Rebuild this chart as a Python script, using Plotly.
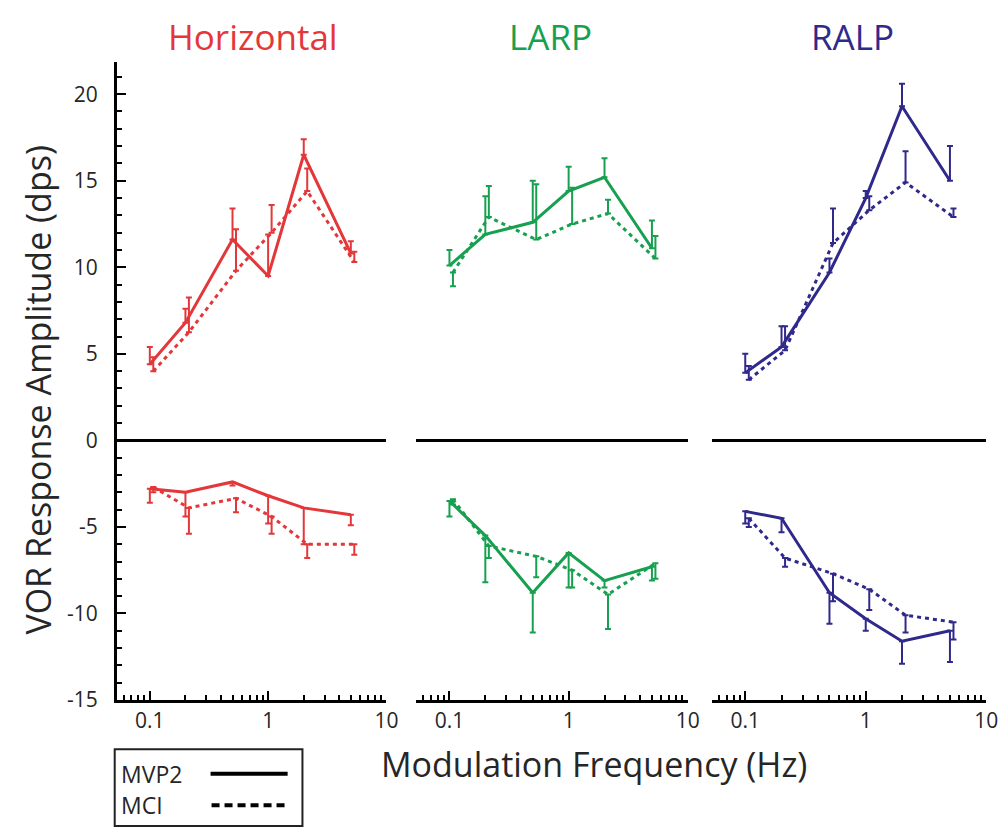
import plotly.graph_objects as go

# Figure size in px (matches the browser window)
W, H = 1008, 834

# Modulation frequencies (Hz); MCI points are drawn slightly to the right
freq = [0.1, 0.2, 0.5, 1, 2, 5]
freq_mci = [0.107, 0.214, 0.535, 1.07, 2.14, 5.35]

# Horizontal canal - positive (upper) half
horiz_mvp2_up = [4.4, 6.8, 11.6, 9.5, 16.5, 10.8]
horiz_mvp2_up_err = [1.0, 0.8, 1.8, 2.4, 0.9, 0.7]
horiz_mci_up = [4.0, 6.25, 9.8, 12.0, 14.4, 10.3]
horiz_mci_up_err = [0.8, 2.0, 2.4, 1.6, 1.3, 0.6]
# Horizontal canal - negative (lower) half
horiz_mvp2_dn = [-2.8, -3.0, -2.4, -3.2, -3.9, -4.3]
horiz_mvp2_dn_err = [0.8, 1.4, 0.2, 1.6, 2.1, 0.6]
horiz_mci_dn = [-2.7, -3.9, -3.35, -4.4, -6.0, -6.0]
horiz_mci_dn_err = [0.3, 1.5, 0.8, 1.0, 0.8, 0.6]

# LARP canal
larp_mvp2_up = [10.1, 11.9, 12.6, 14.4, 15.2, 11.1]
larp_mvp2_up_err = [0.9, 2.2, 2.4, 1.4, 1.1, 1.6]
larp_mci_up = [9.7, 12.9, 11.6, 12.5, 13.1, 10.5]
larp_mci_up_err = [-0.8, 1.8, 3.2, 2.1, 0.8, 1.3]
larp_mvp2_dn = [-3.5, -5.5, -8.8, -6.5, -8.1, -7.3]
larp_mvp2_dn_err = [0.9, 2.7, 2.3, 2.0, 0.4, 0.8]
larp_mci_dn = [-3.4, -6.1, -6.7, -7.5, -8.9, -7.1]
larp_mci_dn_err = [0.3, 0.7, 1.2, 1.0, 2.0, 0.9]

# RALP canal
ralp_mvp2_up = [3.9, 5.4, 9.7, 14.0, 19.3, 15.0]
ralp_mvp2_up_err = [1.1, 1.2, 0.8, 0.4, 1.3, 2.0]
ralp_mci_up = [3.5, 5.2, 11.4, 13.3, 14.9, 12.9]
ralp_mci_up_err = [0.8, 1.4, 2.0, 0.8, 1.8, 0.5]
ralp_mvp2_dn = [-4.1, -4.5, -8.8, -10.3, -11.6, -11.0]
ralp_mvp2_dn_err = [0.7, 0.8, 1.8, 0.7, 1.3, 1.8]
ralp_mci_dn = [-4.5, -6.8, -7.7, -8.6, -10.1, -10.5]
ralp_mci_dn_err = [0.5, 0.5, 1.6, 1.2, 1.0, 1.0]

panel_titles = ["Horizontal", "LARP", "RALP"]
panel_colors = ["#e4373a", "#17a04f", "#30298c"]

x_ticks = [0.1, 1, 10]
x_ticktext = ["0.1", "1", "10"]
x_minor = [0.06, 0.07, 0.08, 0.09,
           0.2, 0.3, 0.4, 0.5, 0.6, 0.7, 0.8, 0.9,
           2, 3, 4, 5, 6, 7, 8, 9]
y_ticks = [-15, -10, -5, 0, 5, 10, 15, 20]
y_ticktext = ["-15", "-10", "-5", "0", "5", "10", "15", "20"]

panels = [
    (horiz_mvp2_up, horiz_mvp2_up_err, horiz_mci_up, horiz_mci_up_err,
     horiz_mvp2_dn, horiz_mvp2_dn_err, horiz_mci_dn, horiz_mci_dn_err),
    (larp_mvp2_up, larp_mvp2_up_err, larp_mci_up, larp_mci_up_err,
     larp_mvp2_dn, larp_mvp2_dn_err, larp_mci_dn, larp_mci_dn_err),
    (ralp_mvp2_up, ralp_mvp2_up_err, ralp_mci_up, ralp_mci_up_err,
     ralp_mvp2_dn, ralp_mvp2_dn_err, ralp_mci_dn, ralp_mci_dn_err),
]

FONT = "Open Sans"
TXT = "#262626"
DOT = "4px,4px"

# pixel layout helpers
def px_x(p):
    return p / W

def px_y(p):
    return 1 - p / H

panel_px = [(110, 383), (413, 688), (712, 990)]
plot_top, plot_bottom = 55, 703


def err_bar(vals, color):
    # one-sided error bars pointing away from zero (negative = towards zero)
    plus = [e if e > 0 else 0 for e in vals]
    minus = [-e if e < 0 else 0 for e in vals]
    return dict(type="data", symmetric=False, array=plus, arrayminus=minus,
                color=color, thickness=2, width=3)


def err_bar_down(vals, color):
    return dict(type="data", symmetric=False, array=[0] * len(vals), arrayminus=vals,
                color=color, thickness=2, width=3)


fig = go.Figure()

for i, (data, color) in enumerate(zip(panels, panel_colors)):
    mvp_up, mvp_up_e, mci_up, mci_up_e, mvp_dn, mvp_dn_e, mci_dn, mci_dn_e = data
    xa = "x" if i == 0 else f"x{i + 1}"
    ya = "y" if i == 0 else f"y{i + 1}"

    # MCI first so MVP2 sits on top
    fig.add_trace(go.Scatter(x=freq_mci, y=mci_up, mode="lines", xaxis=xa, yaxis=ya,
                             line=dict(color=color, width=3, dash=DOT),
                             error_y=err_bar(mci_up_e, color), showlegend=False))
    fig.add_trace(go.Scatter(x=freq_mci, y=mci_dn, mode="lines", xaxis=xa, yaxis=ya,
                             line=dict(color=color, width=3, dash=DOT),
                             error_y=err_bar_down(mci_dn_e, color), showlegend=False))
    fig.add_trace(go.Scatter(x=freq, y=mvp_up, mode="lines", xaxis=xa, yaxis=ya,
                             line=dict(color=color, width=3),
                             error_y=err_bar(mvp_up_e, color), showlegend=False))
    fig.add_trace(go.Scatter(x=freq, y=mvp_dn, mode="lines", xaxis=xa, yaxis=ya,
                             line=dict(color=color, width=3),
                             error_y=err_bar_down(mvp_dn_e, color), showlegend=False))

layout = dict(
    width=W, height=H,
    margin=dict(l=0, r=0, t=0, b=0),
    paper_bgcolor="white",
    plot_bgcolor="white",
    font=dict(family=FONT, color=TXT),
)

for i, (x0, x1) in enumerate(panel_px):
    sfx = "" if i == 0 else str(i + 1)
    layout["xaxis" + sfx] = dict(
        type="log", range=[-1.28, 1.0],
        domain=[px_x(x0), px_x(x1)],
        anchor="y" + sfx,
        showline=True, linecolor="black", linewidth=2.5,
        showgrid=False, zeroline=False,
        tickmode="array", tickvals=x_ticks, ticktext=x_ticktext,
        ticks="inside", ticklen=9, tickwidth=2, tickcolor="black",
        tickfont=dict(size=21, color=TXT, family=FONT),
        minor=dict(tickmode="array", tickvals=x_minor, ticks="inside",
                   ticklen=5, tickwidth=1.5, tickcolor="black", showgrid=False),
    )
    layout["yaxis" + sfx] = dict(
        range=[-15, 21.85],
        domain=[px_y(plot_bottom), px_y(plot_top)],
        anchor="x" + sfx,
        showgrid=False,
        zeroline=True, zerolinecolor="black", zerolinewidth=3,
        showline=(i == 0), linecolor="black", linewidth=2.5,
        showticklabels=(i == 0),
        tickmode="array", tickvals=y_ticks, ticktext=y_ticktext,
        ticks="inside" if i == 0 else "", ticklen=10, tickwidth=2, tickcolor="black",
        tickfont=dict(size=21, color=TXT, family=FONT),
        ticklabelstandoff=12,
        minor=dict(dtick=1, tick0=0, ticks="inside" if i == 0 else "",
                   ticklen=6, tickwidth=1.5, tickcolor="black", showgrid=False),
    )

fig.update_layout(**layout)

# panel titles
title_x = [248, 549, 855]
for name, color, cx in zip(panel_titles, panel_colors, title_x):
    fig.add_annotation(text=name, x=px_x(cx), y=px_y(29), xref="paper", yref="paper",
                       showarrow=False, xanchor="center", yanchor="middle",
                       font=dict(size=35, color=color, family=FONT))

# axis titles
fig.add_annotation(text="Modulation Frequency (Hz)", x=px_x(593), y=px_y(768),
                   xref="paper", yref="paper", showarrow=False,
                   xanchor="center", yanchor="middle",
                   font=dict(size=34, color=TXT, family=FONT))
fig.add_annotation(text="VOR Response Amplitude (dps)", x=px_x(30), y=px_y(388),
                   xref="paper", yref="paper", showarrow=False, textangle=-90,
                   xanchor="center", yanchor="middle",
                   font=dict(size=34, color=TXT, family=FONT))

# legend key box (drawn by hand: label on the left, line sample on the right)
fig.add_shape(type="rect", xref="paper", yref="paper",
              x0=px_x(108), x1=px_x(298), y0=px_y(831), y1=px_y(753),
              line=dict(color="#222222", width=2), fillcolor="white")
fig.add_shape(type="line", xref="paper", yref="paper",
              x0=px_x(205), x1=px_x(283), y0=px_y(778), y1=px_y(778),
              line=dict(color="black", width=4))
fig.add_shape(type="line", xref="paper", yref="paper",
              x0=px_x(206), x1=px_x(282), y0=px_y(810), y1=px_y(810),
              line=dict(color="black", width=4, dash="8px,5px"))
fig.add_annotation(text="MVP2", x=px_x(112), y=px_y(778), xref="paper", yref="paper",
                   showarrow=False, xanchor="left", yanchor="middle",
                   font=dict(size=23, color=TXT, family=FONT))
fig.add_annotation(text="MCI", x=px_x(112), y=px_y(810), xref="paper", yref="paper",
                   showarrow=False, xanchor="left", yanchor="middle",
                   font=dict(size=23, color=TXT, family=FONT))

fig.write_html("out.html")
